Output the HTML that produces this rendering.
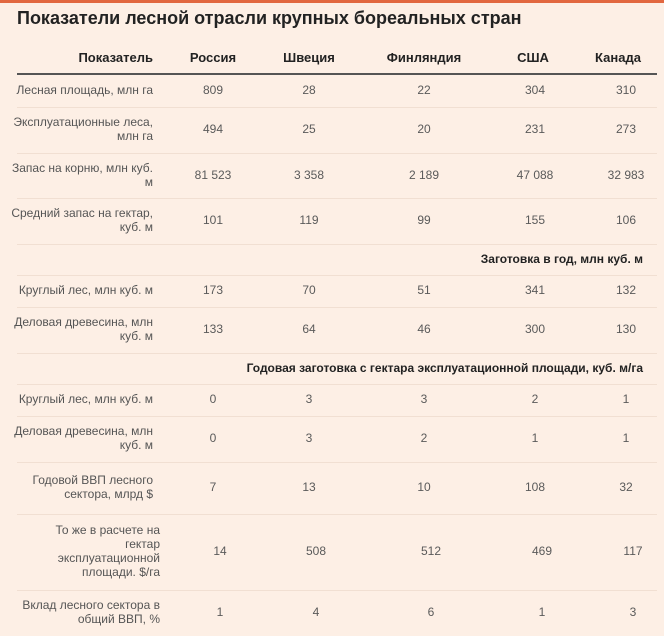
<!DOCTYPE html>
<html><head><meta charset="utf-8"><style>
body{margin:0;width:664px;height:636px;background:#fdefe5;font-family:"Liberation Sans",sans-serif;position:relative;overflow:hidden}
.a{position:absolute}
.t{position:absolute;font-size:12px;color:#555;line-height:14px}
.v{color:#5a5a5a}
.h{position:absolute;font-size:13px;font-weight:bold;color:#222}
.ln{position:absolute;left:17px;width:640px;height:1px;background:#f1dfd2}
</style></head><body>
<div class="a" style="left:0;top:0;width:664px;height:3px;background:#e2673f"></div>
<div class="a" style="left:17px;top:8px;font-size:18px;font-weight:bold;color:#222">Показатели лесной отрасли крупных бореальных стран</div>
<div class="a" style="left:17px;top:73px;width:640px;height:2px;background:#555"></div>
<div id="tbl"></div>
<script>
const headers=["Россия","Швеция","Финляндия","США","Канада"];
const colX=[213,309,424,535,626];
const headX=[213,309,424,533,618];
const rowLabels=["Лесная площадь, млн га","Эксплуатационные леса,<br>млн га","Запас на корню, млн куб.<br>м","Средний запас на гектар,<br>куб. м",null,"Круглый лес, млн куб. м","Деловая древесина, млн<br>куб. м",null,"Круглый лес, млн куб. м","Деловая древесина, млн<br>куб. м","Годовой ВВП лесного<br>сектора, млрд $","То же в расчете на<br>гектар<br>эксплуатационной<br>площади. $/га","Вклад лесного сектора в<br>общий ВВП, %"];
const sectionTitles=["","","","","Заготовка в год, млн куб. м","","","Годовая заготовка с гектара эксплуатационной площади, куб. м/га","","","","",""];
const values=[
["809","28","22","304","310"],
["494","25","20","231","273"],
["81 523","3 358","2 189","47 088","32 983"],
["101","119","99","155","106"],
null,
["173","70","51","341","132"],
["133","64","46","300","130"],
null,
["0","3","3","2","1"],
["0","3","2","1","1"],
["7","13","10","108","32"],
["14","508","512","469","117"],
["1","4","6","1","3"]];
const rowBounds=[75,107,153,198,244,275,307,353,384,416,462,514,590,636];
const rowShift=[0,0,0,0,0,0,0,0,0,0,0,7,7];
const T=document.getElementById('tbl');
function mk(cls,html,style){const d=document.createElement('div');d.className=cls;d.innerHTML=html;d.style.cssText=style;T.appendChild(d);return d;}
let e=mk('h','Показатель','right:511px;top:50px;text-align:right');


headers.forEach((h,i)=>{const d=mk('h',h,'left:'+(headX[i]-50)+'px;width:100px;text-align:center;top:50px');

});
rowLabels.forEach((lab,r)=>{
 const y0=rowBounds[r],y1=rowBounds[r+1],mid=(y0+y1)/2;
 if(r<rowLabels.length-1){const l=mk('ln','','top:'+y1+'px');
 
 }
 if(lab===null){const s=mk('h',sectionTitles[r],'right:21px;top:'+(mid-8)+'px;font-size:12px');
 
 return;}
 const n=(lab.match(/<br>/g)||[]).length+1;
 const L=mk('t',lab,'right:'+(511-rowShift[r])+'px;text-align:right;top:'+(mid-n*7-1)+'px');
 
 
 values[r].forEach((v,i)=>{const c=mk('t v',v,'left:'+(colX[i]+rowShift[r]-50)+'px;width:100px;text-align:center;top:'+(mid-8)+'px');
 
 });
});
</script>
</body></html>
